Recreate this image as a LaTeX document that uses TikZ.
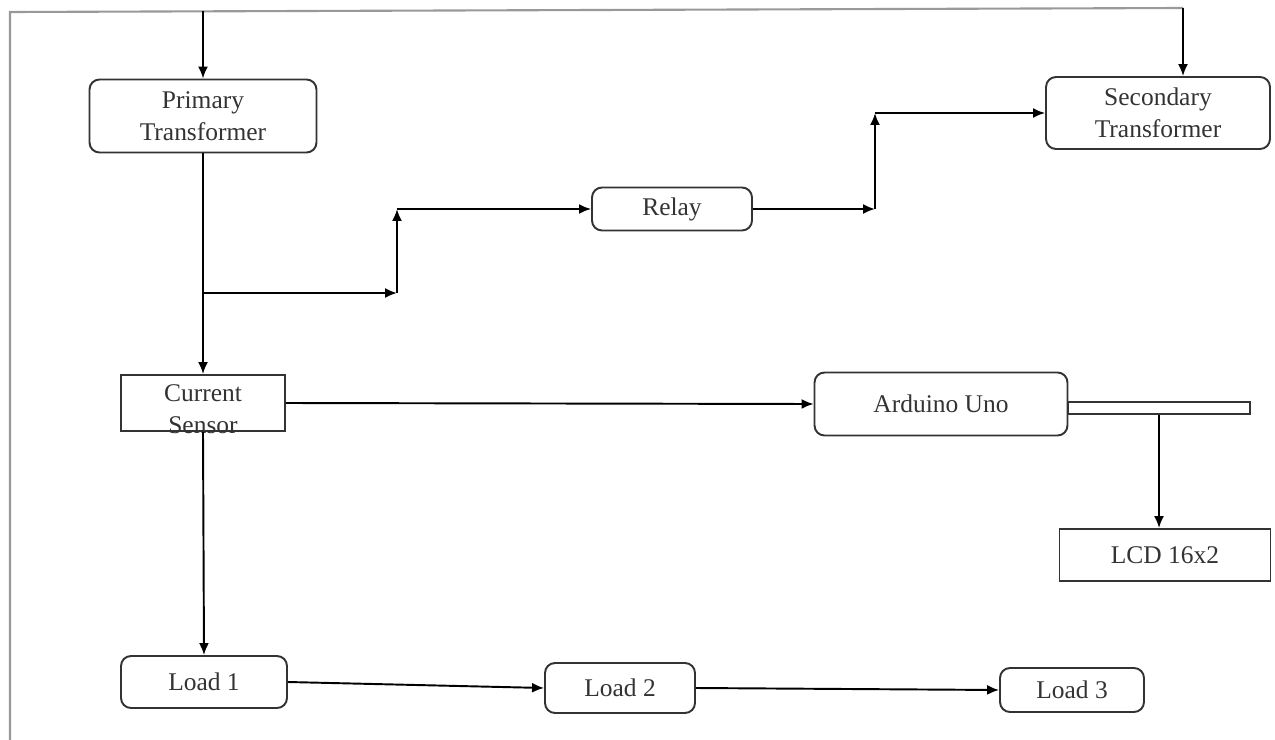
\documentclass[tikz,border=0pt]{standalone}
\usepackage{fontspec}
\setmainfont{Liberation Serif}
\usepackage{tikz}
\usetikzlibrary{arrows.meta}

\tikzset{
  block/.style={draw=black!80, line width=1.1pt, rounded corners=0.2cm, align=center,
    text=black!80, font=\fontsize{14.5}{18}\selectfont},
  plainbox/.style={draw=black!80, line width=1.1pt, align=center,
    text=black!80, font=\fontsize{14.5}{18}\selectfont},
  arr/.style={-{Latex[length=0.24cm,width=0.2cm]}, line width=1.1pt, black},
  frame/.style={line width=1.2pt, black!40}
}

\begin{document}
\begin{tikzpicture}[x=0.02cm, y=-0.02cm]
  \useasboundingbox (0,0) rectangle (1275,740);

  % blocks
  \node[block, minimum width=4.54cm, minimum height=1.46cm] (primary) at (203,116) {Primary\\Transformer};
  \node[block, minimum width=4.48cm, minimum height=1.44cm] (secondary) at (1158,113) {Secondary\\Transformer};
  \node[block, minimum width=3.2cm, minimum height=0.86cm] (relay) at (672,209) {Relay};
  \node[plainbox, minimum width=3.28cm, minimum height=1.12cm] (sensor) at (203,403) {};
  \node[font=\fontsize{14.5}{18.5}\selectfont, text=black!80, align=center] (sensortxt) at (203,409) {Current\\Sensor};
  \node[block, minimum width=5.06cm, minimum height=1.26cm] (arduino) at (941,404) {Arduino Uno};
  \node[plainbox, minimum width=3.64cm, minimum height=0.24cm, inner sep=0pt] (bar) at (1159,408) {};
  \node[plainbox, minimum width=4.22cm, minimum height=1.04cm] (lcd) at (1165,555) {LCD 16x2};
  \node[block, minimum width=3.32cm, minimum height=1.04cm] (load1) at (204,682) {Load 1};
  \node[block, minimum width=3.0cm, minimum height=1.0cm] (load2) at (620,688) {Load 2};
  \node[block, minimum width=2.88cm, minimum height=0.88cm] (load3) at (1072,690) {Load 3};

  % outer supply line
  \coordinate (f1) at (10,740);
  \coordinate (f2) at (10,12);
  \coordinate (f3) at (1183,8);
  \draw[frame] (f1) -- (f2) -- (f3);
  \draw[arr] (primary.north |- 0,11) -- (primary.north);
  \draw[arr] (f3) -- (f3 |- secondary.north);

  % primary to sensor, branch to relay
  \draw[arr] (primary.south) -- (sensor.north);
  \coordinate (split1) at (203,293);
  \coordinate (c1) at (397,293);
  \coordinate (c2) at (397,209);
  \draw[arr] (split1) -- (c1);
  \draw[arr] (c1) -- (c2);
  \draw[arr] (c2) -- (relay.west);

  % relay to secondary
  \coordinate (c3) at (875,209);
  \coordinate (c4) at (875,113);
  \draw[arr] (relay.east) -- (c3);
  \draw[arr] (c3) -- (c4);
  \draw[arr] (c4) -- (secondary.west);

  % sensor, arduino, lcd
  \draw[arr] (sensor.east) -- (arduino.west);
  \draw[arr] (bar.south) -- (bar.south |- lcd.north);

  % loads
  \draw[arr] (sensor.south) -- (load1.north);
  \draw[arr] (load1.east) -- (load2.west);
  \draw[arr] (load2.east) -- (load3.west);
\end{tikzpicture}
\end{document}
